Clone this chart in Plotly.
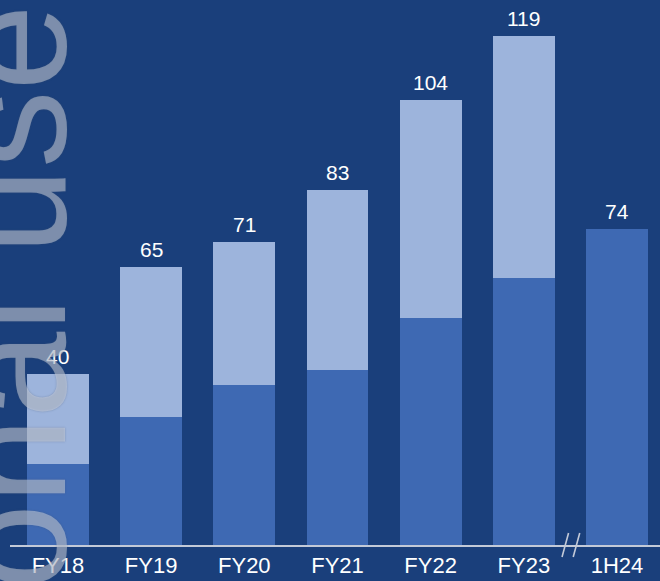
import plotly.graph_objects as go

# Periods and values
periods = ["FY18", "FY19", "FY20", "FY21", "FY22", "FY23", "1H24"]
base_values = [19, 30, 37.5, 41, 53, 62.5, 74]
upper_values = [21, 35, 33.5, 42, 51, 56.5, 0]
totals = [40, 65, 71, 83, 104, 119, 74]

BG = "#1a3f7b"
DARK_BAR = "#3e69b3"
LIGHT_BAR = "#9db4dc"
AXIS = "#c3cad8"
FONT = "Liberation Sans, Arial, sans-serif"

xpos = list(range(len(periods)))

fig = go.Figure()
fig.add_trace(go.Bar(x=xpos, y=base_values, marker=dict(color=DARK_BAR, line=dict(width=0)),
                     width=0.665, hoverinfo="skip"))
fig.add_trace(go.Bar(x=xpos, y=upper_values, marker=dict(color=LIGHT_BAR, line=dict(width=0)),
                     width=0.665, hoverinfo="skip"))

# total labels above each bar
for xi, t in zip(xpos, totals):
    fig.add_annotation(x=xi, y=t, xref="x", yref="y", text=str(t), showarrow=False,
                       yanchor="bottom", yshift=4,
                       font=dict(family=FONT, size=21, color="white"))

# axis break marks between FY23 and 1H24
brk = 5.5
for dx in (-0.055, 0.065):
    fig.add_shape(type="line", xref="x", yref="paper",
                  x0=brk + dx - 0.035, x1=brk + dx + 0.035,
                  y0=-0.022, y1=0.022,
                  line=dict(color=AXIS, width=1.6))

# watermark text
fig.add_annotation(x=0.002, y=0.455, xref="paper", yref="paper", text="onal use",
                   textangle=-90, showarrow=False, xanchor="center", yanchor="middle",
                   font=dict(family=FONT, size=155, color="rgba(222,226,236,0.46)",
                             shadow="0px 0px 2px rgba(70,85,110,0.9)"))

fig.update_layout(
    barmode="stack",
    width=660, height=581,
    paper_bgcolor=BG, plot_bgcolor=BG,
    margin=dict(l=10, r=0, t=0, b=36),
    showlegend=False,
    bargap=0.33,
    xaxis=dict(range=[-0.515, 6.4615], tickvals=xpos, ticktext=periods,
               showgrid=False, zeroline=False, showline=True, linecolor=AXIS, linewidth=2,
               ticks="", tickfont=dict(family=FONT, size=22, color="white"),
               fixedrange=True),
    yaxis=dict(range=[0, 127.5], visible=False, fixedrange=True),
)

fig.write_html("out.html")
